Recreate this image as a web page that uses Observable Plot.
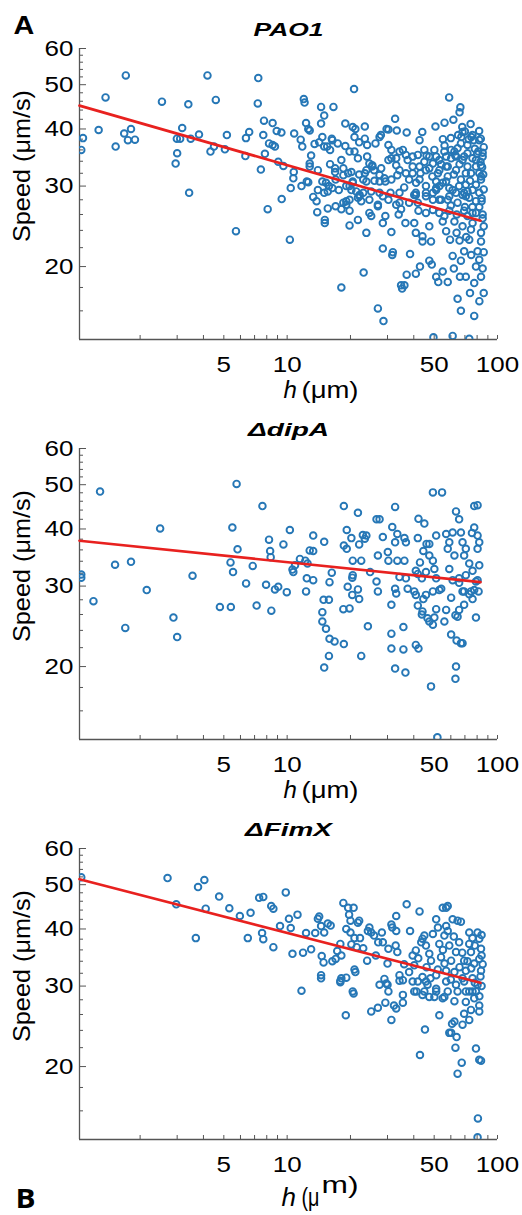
<!DOCTYPE html>
<html><head><meta charset="utf-8">
<script src="https://cdn.jsdelivr.net/npm/d3@7"></script>
<script src="https://cdn.jsdelivr.net/npm/@observablehq/plot@0.6"></script>
<style>
body{margin:0;background:#fff;width:522px;}
svg{display:block;}
</style></head><body><div id="chart"></div>
<script>
const titles = ["PAO1", "ΔdipA", "ΔFimX"];
const yLabel = "Speed (μm/s)";
const xMajor = [5, 10, 50, 100];
const xMinor = [2, 3, 4, 6, 7, 8, 9, 20, 30, 40, 60, 70, 80, 90];
const yMajor = [20, 30, 40, 50, 60];
const yMinor = [16, 18, 22, 24, 26, 28, 32, 34, 36, 38, 42, 44, 46, 48, 52, 54, 56, 58];
const xDomain = [1.03, 100];
const yDomain = [13.85, 60];

// [h (µm), speed (µm/s)]
const pao1 = [
[1.05,36.0],[1.07,38.2],[1.27,39.8],[1.37,46.9],[1.53,36.6],[1.71,52.4],[1.68,39.1],[1.81,40.0],[1.75,37.8],[1.89,37.9],
[2.54,45.9],[2.95,33.6],[3.0,35.4],[2.99,38.1],[3.1,38.1],[3.17,40.2],[3.39,45.3],[3.48,38.1],[3.81,38.9],[4.18,52.4],
[4.32,35.7],[4.49,36.6],[4.58,46.3],[5.06,36.1],[5.17,38.8],[6.33,34.9],[6.37,38.2],[6.6,39.4],[7.29,51.7],[7.25,45.5],
[7.5,32.6],[7.76,41.7],[7.7,38.8],[7.84,35.3],[8.53,41.2],[8.2,37.2],[8.53,36.9],[8.75,36.6],[8.92,39.6],[9.39,39.3],
[9.07,33.9],[9.6,33.2],[10.8,39.1],[10.75,32.2],[10.7,31.2],[10.4,29.7],[11.6,37.9],[11.8,36.6],[12.0,46.5],[12.1,45.7],
[12.3,41.2],[12.6,40.0],[12.8,39.7],[12.8,33.6],[13.5,37.1],[14.5,44.7],[14.5,41.1],[14.7,38.4],[15.0,42.8],[15.0,36.6],
[15.5,36.6],[16.0,36.0],[16.6,44.7],[16.3,38.1],[16.9,32.8],[16.9,32.2],[17.4,37.2],[18.9,41.1],[18.9,36.7],[20.8,48.9],
[20.5,40.4],[21.1,40.0],[20.9,38.4],[22.0,37.4],[23.4,40.5],[23.4,38.1],[24.0,36.9],[26.3,37.2],[27.5,38.4],[27.9,38.8],
[29.7,40.0],[30.3,36.9],[32.6,42.1],[33.2,39.7],[37.0,39.3],[43.9,39.4],[50.7,40.5],[56.0,41.3],[58.9,46.9],[61.7,41.9],
[66.6,44.6],[66.0,43.5],[68.0,40.4],[74.5,41.0],[67.3,38.4],[75.1,38.4],[81.8,39.6],[83.3,38.1],[81.0,35.7],[83.0,33.9],
[3.42,29.0],[5.71,23.9],[8.08,26.7],[9.42,28.1],[10.3,22.9],[11.7,30.0],[12.6,30.6],[13.3,28.4],[13.8,27.8],[13.9,26.3],
[15.1,25.3],[15.1,24.9],[15.6,26.8],[15.0,29.0],[15.6,29.2],[16.4,29.7],[18.1,26.7],[19.1,27.3],[19.1,27.8],[19.8,24.6],
[20.2,29.4],[21.7,28.3],[21.7,25.3],[22.1,28.7],[22.5,27.8],[23.8,23.7],[24.6,26.2],[25.1,25.8],[18.1,18.0],[23.1,19.4],
[27.0,16.2],[28.7,15.2],[27.0,27.3],[28.5,24.9],[28.5,21.9],[31.8,21.5],[31.6,21.2],[31.3,23.8],[33.0,27.3],[33.9,26.0],
[34.8,26.7],[36.5,24.9],[37.0,19.2],[38.4,21.3],[34.8,18.2],[35.2,17.9],[36.1,18.2],[40.2,28.7],[41.8,27.6],[40.2,24.9],
[40.9,23.7],[42.1,26.5],[44.0,23.3],[44.0,22.7],[42.8,20.0],[40.9,19.3],[47.4,20.6],[48.7,20.2],[47.4,24.5],[48.3,22.7],
[51.1,19.0],[52.3,18.5],[49.6,14.0],[54.9,19.5],[55.9,25.8],[58.0,28.0],[61.2,14.1],[64.6,17.0],[67.0,16.0],[66.3,19.0],
[61.2,21.1],[59.5,22.9],[63.9,23.7],[67.0,20.6],[69.4,21.6],[70.7,19.0],[73.4,13.9],[77.5,18.4],[77.5,15.6],[79.0,20.0],
[80.4,21.6],[81.9,20.7],[83.5,19.0],[83.5,23.7],[83.5,22.7],[81.9,27.0],[73.4,22.9],[72.0,25.8],[76.1,24.9],[69.4,26.5],
[64.6,27.6],[61.2,29.4],[69.4,29.0],[76.1,29.4],[51.1,29.4],[52.9,28.0],[45.7,28.5],[49.3,26.6],[54.9,25.1],[57.0,23.9],
[62.4,25.1],[68.2,24.5],[74.8,24.1],[79.0,26.2],
[24.6,33.6],[25.4,33.1],[25.9,32.5],[23.4,32.0],[23.8,30.7],[20.5,30.7],[19.5,32.0],[18.5,32.8],[30.3,34.2],[31.3,34.5],
[34.2,35.7],[35.5,36.0],[36.7,35.1],[39.5,34.8],[42.6,33.1],[44.9,33.9],[47.4,32.8],[49.3,33.6],[51.1,34.8],[52.9,32.5],
[57.0,34.8],[58.0,33.1],[60.2,34.5],[62.4,35.7],[64.6,36.3],[67.0,37.2],[69.4,34.8],[72.0,33.1],[74.8,32.0],[79.0,33.1],
[81.9,32.0],[83.5,31.0],[79.0,30.2],[70.7,30.2],[65.7,30.0],[57.0,30.7],[51.1,30.7],[45.7,30.0],[42.6,31.0],[39.5,32.0],
[36.7,32.0],[34.2,32.5],[31.3,31.0],[29.3,30.7],[27.5,30.7],[23.0,29.0],[21.3,29.2],[19.8,30.0],[17.6,29.4],[15.8,30.0],
[14.7,30.7],[14.0,29.4],[28.5,28.5],[34.2,29.0],[40.9,28.7],[49.3,29.0],[59.0,28.5],[70.7,28.5],[81.9,29.0],
[68.2,39.4],[81.9,37.8],[72.0,36.9],[76.1,38.8],[55.9,35.7],[60.2,36.0],[63.5,34.8],[68.2,34.2],[72.0,35.4],[79.0,34.2],
[83.5,33.3],[83.5,31.5],[70.7,32.0],[63.5,32.5],[57.0,33.1],[52.1,32.0],[45.7,32.5],[51.1,29.7],[54.9,30.5],[59.0,29.7],
[63.5,29.0],[68.2,28.7],[73.4,28.3],[79.0,27.8],[53.9,28.0],[49.3,28.0],[45.7,29.0],[40.9,29.0],[38.0,27.6],[34.2,27.6],
[30.3,28.0],[27.0,27.1],[24.6,28.0],[22.1,28.5],[19.8,28.0],[18.5,27.6],[17.0,27.1],[19.1,30.0],[20.5,30.5],[23.0,31.0],
[25.1,29.2],[27.5,29.0],[18.1,34.2],[19.8,35.7],[20.9,35.7],[21.7,34.5],[18.5,31.7],[20.2,32.2],[23.8,32.5],[25.4,33.3],
[27.5,31.7],[29.0,31.2],[33.4,31.7],[33.0,34.5],[31.3,36.0],[37.4,34.2],[39.5,33.1],[41.8,35.1],[44.9,36.0],[47.4,34.8],
[50.1,36.0],[52.9,34.2],[30.3,39.9],[42.6,37.8],[16.4,37.8],[14.2,37.4],[12.8,33.1],[12.4,30.7],[15.3,30.5],[19.8,26.5],
[29.3,25.8],[45.7,26.2],[52.9,26.2],[59.0,26.5],[76.1,26.2],
[86,36.5],[85,34.8],[84.5,33.0],[85.5,31.8],[86,29.5],[84,27.8],[85,26.0],[86,24.5],[85,35.5],[84,28.2],
[78,36.2],[76,34.5],[74,30.8],[72,29.2],[70,27.0],[66,33.5],[62,31.8],[58,31.5],[56,36.8],[54,33.5],
[53,30.0],[60,27.2],[64,26.0],[71,23.2],[75,21.2],[85,25.5],[86,21.5],[86,17.5],[85,19.8],[82,16.8],
[74,17.5],[58,18.5],[62,19.8],[66,22.8],[49,31.5],[46,35.0],[43,32.0],[41,30.5],[38,31.0],[36,29.8],
[33,33.3],[31,29.0],[28,32.8],[26,30.8],[24,34.8],[22,31.8],[17,31.0],[16,33.5],[14,32.5],[13,35.0],
[80,35.3],[77,37.8],[73,38.0],[70,39.5],[65,38.8],[60,38.2],[55,38.0],[63,35.0],[67,31.0],[76,27.0]
];

const dipA = [
[1.05,31.8],[1.05,31.3],[1.29,48.3],[1.52,33.4],[1.81,33.9],[2.15,29.4],[2.49,40.1],[3.55,31.6],[5.49,40.3],[5.38,33.8],
[5.53,32.2],[5.75,50.2],[5.81,36.1],[6.38,30.4],[6.86,33.2],[7.63,44.9],[7.94,30.2],[8.2,37.9],[8.3,35.8],[8.35,34.7],
[8.75,29.5],[9.07,29.9],[9.6,37.0],[9.96,29.1],[10.3,39.8],[10.6,32.6],[10.7,32.2],[10.9,33.3],[11.5,34.4],[12.2,34.1],
[12.5,33.6],[12.4,31.2],[13.3,30.9],[12.3,29.2],[12.8,35.9],[13.3,35.8],[13.3,38.7],[15.0,37.5],[16.3,32.1],[15.9,30.6],
[18.6,44.9],[19.2,39.8],[18.6,36.8],[19.2,36.2],[20.2,38.2],[20.5,34.1],[22.5,34.1],[20.5,31.7],[20.4,31.3],[19.4,29.9],
[21.7,29.5],[21.7,43.4],[22.0,37.0],[22.9,38.8],[23.4,38.1],[23.8,38.7],[24.8,32.2],[26.6,42.0],[27.5,42.0],[27.0,35.0],
[26.6,30.7],[27.0,29.2],[28.5,38.4],[30.1,35.6],[30.3,34.1],[31.6,40.4],[32.6,44.7],[32.6,37.4],[33.4,39.0],[33.4,34.1],
[34.2,31.4],[32.6,29.6],[36.1,38.2],[36.7,37.4],[36.1,34.1],[36.7,31.2],[37.4,29.6],[40.2,29.2],[42.1,42.1],[44.9,41.1],
[41.8,38.2],[42.8,33.8],[41.8,31.9],[43.7,31.2],[46.0,37.1],[47.4,37.1],[44.4,35.8],[49.3,48.1],[54.5,48.1],[51.1,38.7],
[47.4,35.0],[49.3,34.1],[50.1,32.7],[51.1,31.2],[54.0,29.6],[57.0,39.0],[59.0,37.4],[61.2,39.3],[58.0,36.2],[62.4,35.0],
[59.0,32.7],[63.5,43.7],[65.7,42.0],[67.0,39.3],[68.2,37.4],[70.7,36.2],[69.4,35.0],[73.4,33.6],[76.1,32.4],[70.7,31.7],
[65.7,31.2],[61.2,30.9],[77.5,44.9],[80.4,45.1],[77.5,40.3],[75.6,39.2],[80.4,38.7],[81.9,37.4],[80.4,36.2],[81.9,33.3],
[80.4,30.9],[79.0,30.7],[81.3,29.2],[74.8,29.2],[68.2,29.2],[45.7,32.2],[40.9,32.4],[49.3,29.2],[40.9,28.7],[45.7,28.7],
[1.20,27.8],[1.70,24.3],[2.88,25.6],[3.0,23.2],[4.79,27.0],[5.40,27.0],[7.16,27.2],[8.41,26.5],[14.9,28.0],[15.8,28.0],
[14.7,26.3],[14.7,25.1],[15.3,24.2],[15.9,23.0],[16.8,22.7],[15.8,21.1],[15.0,19.9],[18.6,22.4],[20.4,28.7],[22.0,28.1],
[18.5,26.7],[19.8,26.8],[24.2,24.5],[22.5,21.1],[31.3,27.3],[33.0,28.9],[31.3,23.6],[31.3,21.9],[32.6,19.8],[35.7,24.4],
[35.7,21.8],[36.5,19.4],[41.8,27.2],[44.0,26.4],[43.7,26.0],[44.4,28.1],[40.9,22.3],[42.1,21.9],[46.5,25.5],[47.4,25.1],
[49.3,24.7],[50.1,25.6],[51.1,26.7],[52.9,29.4],[48.3,18.1],[51.8,14.0],[55.9,25.1],[57.0,26.6],[60.2,28.3],[60.2,23.5],
[63.1,25.9],[64.6,25.7],[63.5,20.0],[63.1,18.8],[63.9,22.8],[67.0,22.5],[68.2,22.5],[65.7,26.6],[69.4,27.3],[73.4,28.8],
[76.1,28.1],[79.0,25.6],[77.5,29.4],[69.4,29.2],[65.7,30.5]
];

const fimX = [
[1.05,51.9],[2.70,51.7],[2.97,45.3],[3.68,38.2],[3.77,49.4],[4.04,51.2],[4.1,44.3],[4.75,47.1],[5.31,44.4],[5.96,42.7],
[6.5,38.2],[6.7,43.4],[7.36,46.8],[7.7,47.0],[7.6,39.2],[7.7,38.0],[8.4,44.9],[8.6,44.3],[8.6,36.5],[9.25,40.6],
[9.85,48.1],[10.2,42.1],[10.4,40.2],[10.6,35.3],[11.2,43.0],[11.9,35.5],[12.3,39.2],[13.0,36.1],[13.6,39.2],[14.0,42.1],
[14.2,42.6],[14.5,40.6],[14.6,34.9],[14.5,31.7],[14.9,33.8],[15.0,39.3],[15.6,41.1],[16.1,40.7],[16.4,34.0],[17.0,34.4],
[17.3,35.8],[17.9,37.1],[18.1,35.0],[18.5,45.6],[19.1,40.0],[19.5,44.5],[19.7,43.0],[20.0,41.7],[20.7,44.5],[21.7,41.3],
[22.0,41.7],[20.0,39.3],[20.9,38.2],[22.2,38.2],[21.4,36.5],[20.2,37.0],[17.9,30.6],[18.1,31.2],[19.1,31.3],[20.9,32.6],
[21.1,32.2],[20.5,29.2],[23.0,36.3],[24.0,34.1],[24.2,39.6],[24.6,40.3],[25.1,39.3],[25.9,38.7],[26.4,35.0],[27.1,37.4],
[28.2,39.3],[28.5,37.4],[29.0,31.1],[29.6,30.4],[30.0,33.6],[30.3,36.2],[31.3,40.9],[31.6,40.3],[33.0,42.7],[33.0,39.6],
[32.8,36.8],[33.4,35.6],[34.2,31.7],[35.5,30.9],[37.0,45.3],[38.4,39.6],[39.5,35.0],[40.2,33.3],[40.9,35.9],[42.6,43.7],
[43.4,37.4],[44.0,38.1],[44.9,38.7],[45.7,36.8],[41.8,30.7],[44.0,31.4],[47.4,35.3],[48.3,34.1],[49.3,39.0],[51.1,42.0],
[52.1,40.3],[52.9,37.1],[53.9,34.7],[54.9,44.5],[57.0,44.5],[58.0,44.9],[57.0,40.6],[58.0,39.6],[55.9,38.7],[59.0,36.8],
[60.2,34.1],[57.0,32.4],[51.1,31.7],[45.7,30.7],[61.2,42.0],[64.6,41.7],[67.0,41.5],[65.7,37.4],[63.5,35.6],[62.4,32.2],
[69.4,34.1],[68.2,31.2],[70.7,32.4],[73.4,39.3],[73.4,37.1],[74.8,35.6],[77.5,33.6],[76.1,31.2],[79.0,29.2],[80.4,39.3],
[81.9,38.1],[83.5,36.2],[81.9,34.4],[83.5,32.4],[80.4,30.2],[70.7,29.2],[64.6,29.2],[58.0,29.2],[51.1,29.2],[44.9,29.2],
[40.2,29.2],[35.5,28.7],[30.3,29.2],[27.5,30.2],
[11.7,29.3],[14.5,31.2],[17.9,30.8],[20.7,28.9],[19.0,25.9],[25.1,26.4],[27.0,26.9],[29.3,27.6],[30.0,30.2],[31.3,25.3],
[32.2,27.2],[33.0,26.8],[35.5,27.6],[34.2,30.8],[39.5,30.7],[41.2,29.2],[42.8,21.2],[44.0,28.7],[45.2,24.1],[46.5,30.2],
[47.4,28.4],[50.1,28.4],[51.1,29.6],[52.9,25.9],[54.9,28.2],[55.9,28.4],[57.0,30.7],[59.0,23.7],[60.2,23.7],[60.8,24.8],
[62.4,25.1],[62.4,27.8],[63.1,22.0],[63.9,23.2],[64.6,19.3],[67.6,20.4],[68.2,24.7],[69.4,26.1],[70.7,27.7],[73.4,29.2],
[73.4,25.3],[74.8,26.6],[76.1,29.2],[77.5,28.2],[79.0,21.9],[81.9,20.7],[83.5,20.6],[81.9,27.2],[81.9,26.4],[80.7,15.4],
[80.4,14.0],[63.5,30.2],[69.4,30.7],
[84,35.0],[85,33.5],[83,31.5],[84,30.0],[82,28.5],[78,30.5],[75,32.8],[72,34.0],[68,35.5],[66,33.0],
[60,31.0],[56,33.6],[52,32.6],[48,31.2],[46,33.0],[42,34.5],[38,32.2],[36,33.5],[78,36.8],[76,38.2],
[84,38.8],[62,38.5],[55,36.0]
];

// fitted power-law lines: [h, speed] at both ends
const pao1Fit = [[1.03, 45.0], [83, 25.2]];
const dipAFit = [[1.03, 37.7], [83, 30.6]];
const fimXFit = [[1.03, 51.4], [83, 30.5]];

const blue = "#2677b6", red = "#e8211f", axisColor = "#555";
const L = 79, R = 497, T = 48, B = 339;
const frameW = R - L, frameH = B - T;

function makePanel(title, pts, fitLine, H, extra) {
  const marks = [
    Plot.tickY(yMinor, {y: d => d, insetRight: frameW - 4, stroke: axisColor}),
    Plot.tickY(yMajor, {y: d => d, insetRight: frameW - 7, stroke: axisColor}),
    Plot.tickX(xMajor.concat(xMinor), {x: d => d, insetTop: frameH - 4, stroke: axisColor}),
    Plot.ruleX([xDomain[0]], {stroke: axisColor, strokeWidth: 1.3}),
    Plot.ruleY([yDomain[0]], {stroke: axisColor, strokeWidth: 1.3}),
    Plot.dot(pts, {x: d => d[0], y: d => d[1], r: 3.3, stroke: blue, strokeWidth: 1.9, fill: "none", clip: true}),
    Plot.line(fitLine, {x: d => d[0], y: d => d[1], stroke: red, strokeWidth: 2.7}),
    Plot.axisX({ticks: xMajor, tickSize: 0, tickPadding: 17, tickFormat: d => String(d), fontSize: 22, label: null}),
    Plot.axisY({ticks: yMajor, tickSize: 0, tickPadding: 6, tickFormat: d => String(d), fontSize: 22, label: null}),
    Plot.text([title], {frameAnchor: "top", lineAnchor: "bottom", dy: -13, fontSize: 19, fontWeight: "bold", fontStyle: "italic"}),
    Plot.text([yLabel], {frameAnchor: "left", rotate: -90, textAnchor: "middle", lineAnchor: "bottom", dx: -50, dy: -28, fontSize: 24}),
    ...extra
  ];
  return Plot.plot({
    width: 522, height: H,
    marginLeft: L, marginRight: 522 - R, marginTop: T, marginBottom: H - B,
    x: {type: "log", domain: xDomain},
    y: {type: "log", domain: yDomain},
    style: {fontFamily: "'Liberation Sans', Arial, sans-serif", background: "white", color: "black", overflow: "visible"},
    marks
  });
}

const xlab12 = [
  Plot.text(["h"], {frameAnchor: "bottom-left", textAnchor: "start", lineAnchor: "bottom", dx: 204, dy: 58, fontSize: 24, fontStyle: "italic"}),
  Plot.text(["(μm)"], {frameAnchor: "bottom-left", textAnchor: "start", lineAnchor: "bottom", dx: 222, dy: 58, fontSize: 24})
];
const p1 = makePanel(titles[0], pao1, pao1Fit, 400, [
  ...xlab12,
  Plot.text(["A"], {frameAnchor: "top-left", textAnchor: "start", lineAnchor: "bottom", dx: -66, dy: -15, fontSize: 25, fontWeight: "bold"})
]);
const p2 = makePanel(titles[1], dipA, dipAFit, 400, xlab12);
const p3 = makePanel(titles[2], fimX, fimXFit, 415, [
  Plot.text(["h"], {frameAnchor: "bottom-left", textAnchor: "start", lineAnchor: "bottom", dx: 202, dy: 66, fontSize: 26, fontStyle: "italic"}),
  Plot.text(["(μ"], {frameAnchor: "bottom-left", textAnchor: "start", lineAnchor: "bottom", dx: 222, dy: 66, fontSize: 26}),
  Plot.text(["m)"], {frameAnchor: "bottom-left", textAnchor: "start", lineAnchor: "bottom", dx: 242, dy: 53, fontSize: 24}),
  Plot.text(["B"], {frameAnchor: "bottom-left", textAnchor: "start", lineAnchor: "bottom", dx: -64, dy: 68, fontSize: 26, fontWeight: "bold", fontFamily: "'Open Sans', sans-serif"})
]);

const chart = document.getElementById("chart");
[p1, p2, p3].forEach(p => chart.appendChild(p));

// horizontal stretch of glyphs to match the reference's wide lettering
const titleWidths = {"PAO1": 70, "ΔdipA": 81, "ΔFimX": 87};
function setLen(t, w) {
  t.setAttribute("textLength", w);
  t.setAttribute("lengthAdjust", "spacingAndGlyphs");
}
[p1, p2, p3].forEach(svg => {
  svg.querySelectorAll('g[aria-label="y-axis tick label"] text, g[aria-label="x-axis tick label"] text')
    .forEach(t => setLen(t, t.getComputedTextLength() * 1.18));
  svg.querySelectorAll("text").forEach(t => {
    const s = t.textContent;
    if (titleWidths[s]) setLen(t, titleWidths[s]);
    else if (s === yLabel) setLen(t, 152);
    else if (s === "(μm)") setLen(t, 57);
    else if (s === "(μ") setLen(t, 18);
    else if (s === "m)") setLen(t, 37);
    else if (s === "A" || s === "B") setLen(t, t.getComputedTextLength() * 1.15);
  });
});
</script>
</body></html>
